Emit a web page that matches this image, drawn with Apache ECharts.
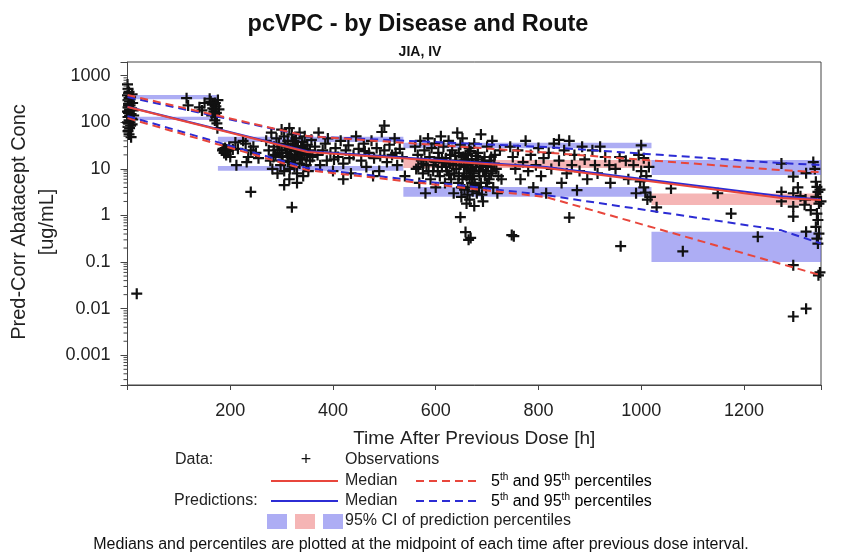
<!DOCTYPE html>
<html><head><meta charset="utf-8">
<script src="https://cdn.jsdelivr.net/npm/echarts@6/dist/echarts.min.js"></script>
<style>html,body{margin:0;padding:0;background:#fff}#c{width:842px;height:553px}</style>
</head><body><div id="c"></div>
<script>
// ---------------- data ----------------
const xTickValues = [200, 400, 600, 800, 1000, 1200];
const yTickLabels = ['0.001', '0.01', '0.1', '1', '10', '100', '1000'];
const yTitleLines = ['Pred-Corr Abatacept Conc', '[ug/mL]'];

const observations = [
  // t ~ 0-20
  [0,650],[1,520],[2,420],[0,380],[3,330],[1,300],[4,280],[2,250],[5,230],[1,210],[6,190],[3,175],[2,160],[7,150],[4,140],[1,130],[8,120],[3,110],[5,100],[2,95],[6,85],[4,75],[1,65],[3,55],[7,48],[9,400],[10,260],[8,200],[11,180],[12,140],[10,115],[9,90],[6,350],[5,310],[0,170],[2,230],[4,190],[0,100],[1,80],[3,450],
  [18,0.021],
  // t ~ 100-180
  [115,330],[118,230],[140,210],[145,180],[150,260],[160,320],[162,280],[165,240],[166,200],[168,170],[170,150],[172,130],[170,110],[174,95],[175,75],[168,250],[172,220],[176,300],[164,140],[178,190],[171,260],[169,190],[173,160],
  // t ~ 180-260
  [185,25],[188,22],[190,28],[192,20],[195,24],[198,30],[200,18],[210,37],[212,12],[215,27],[225,40],[230,35],[232,14],[235,18],[240,25],[245,30],[250,22],[240,3.2],[255,17],[205,26],[186,27],[189,23],[193,26],
  // t ~ 270-360
  [270,40],[275,25],[278,15],[280,60],[282,10],[285,30],[288,20],[290,45],[292,8],[295,35],[298,12],[300,70],[300,25],[302,18],[305,50],[305,9],[308,30],[310,22],[312,40],[312,14],[315,6],[318,28],[320,55],[320,17],[322,35],[325,11],[325,24],[328,45],[330,19],[330,8],[332,30],[335,60],[335,13],[338,22],[340,38],[340,16],[342,7],[345,27],[345,50],[348,12],[350,20],[350,33],[352,9],[355,25],[355,15],[358,42],[360,18],[320,1.5],[330,5],[315,75],[305,4.5],[296,22],[318,20],[326,16],[338,28],[344,20],[310,26],[334,24],
  [284,18],[292,26],[300,15],[306,33],[314,19],[322,13],[328,27],[336,17],[342,31],[348,22],[316,10],[324,40],
  // t ~ 360-540
  [365,30],[370,20],[372,60],[375,12],[380,25],[385,35],[388,15],[390,45],[395,22],[400,9],[405,28],[410,18],[415,40],[420,13],[425,25],[430,32],[435,8],[440,20],[445,50],[450,27],[455,15],[460,35],[465,11],[470,22],[475,40],[480,17],[485,28],[490,9],[495,62],[500,25],[500,85],[505,14],[510,33],[515,20],[520,45],[525,12],[530,27],[535,18],[540,7],[478,7],[420,6],[402,16],[432,17],[462,24],[492,19],[522,22],
  // t ~ 560-730
  [560,30],[562,10],[565,20],[568,5],[570,40],[572,15],[575,8],[578,25],[580,3],[582,12],[585,45],[588,18],[590,6],[592,28],[595,9],[598,35],[600,14],[600,4],
  [605,22],[608,7],[610,50],[612,11],[615,30],[618,5],[620,17],[622,9],[625,40],[628,13],[630,6],[632,25],[635,3],[638,19],[640,10],[642,60],[645,7],[648,33],[650,14],[650,2.5],
  [652,45],[655,8],[658,20],[660,12],[662,4],[665,28],[668,9],[670,16],[672,6],[675,35],[678,11],[680,3],[682,22],[685,7],[688,55],[690,13],[692,2],[695,18],[698,9],[700,30],[700,5],
  [705,15],[708,8],[710,40],[712,4],[715,20],[718,10],[720,3],[725,25],[728,6],[675,1.6],[660,1.8],[690,2.8],
  [640,15],[645,22],[655,11],[662,16],[668,24],[672,13],[678,19],[684,9],[694,14],[702,11],[628,20],[634,12],[616,14],[606,17],[660,7],[670,5],
  [636,8],[644,5],[652,6],[656,15],[664,10],[666,6.5],[674,8],[676,4.5],[680,14],[686,11],[688,5],[696,7],[698,4],[704,6],[710,9],[714,13],[722,7],[626,7.5],[620,11],[612,16],[604,9],[596,12],[586,9],[576,13],[566,11],[646,12],[654,18],[662,21],[670,10],[682,16],[692,9.5],[700,12],[708,18],[650,4],[662,2.8],[672,3.3],[684,4],[666,2.2],[656,3.6],
  [658,0.44],[668,0.33],[648,0.92],[664,0.3],
  // t ~ 740-900
  [745,30],[750,18],[755,10],[760,25],[765,6],[770,14],[775,40],[780,9],[785,20],[790,4],[795,12],[800,28],[805,7],[810,17],[815,3],[820,22],[825,10],[830,35],[840,15],[845,5],[850,25],[855,8],[860,40],[865,12],[870,20],[875,3.5],[880,9],[885,30],[890,16],[895,6],[860,0.9],[752,0.36],[748,0.38],[840,42],
  // t ~ 900-1020
  [905,25],[910,12],[915,8],[920,30],[930,18],[940,5],[950,10],[960,0.22],[970,15],[975,6],[985,12],[990,3],[995,20],[1000,9],[1005,4],[1010,7],[1015,11],[1018,2.5],[1005,17],[1000,32],[938,12],[958,18],[998,5.4],[1008,3.1],[1012,2.2],[1030,1.5],
  // t ~ 1020-1280
  [1058,3.8],[1081,0.17],[1149,3.0],[1175,1.1],[1227,0.35],[1273,13],[1273,3.2],[1273,2.0],
  // t ~ 1280-1350
  [1296,6.8],[1321,8.1],[1296,3.0],[1296,1.55],[1296,0.95],[1318,1.7],[1321,0.45],[1296,0.086],[1296,0.0068],[1321,0.01],[1340,5.3],[1342,4.1],[1344,3.2],[1340,2.5],[1346,1.8],[1342,1.1],[1344,0.8],[1340,0.57],[1346,0.41],[1342,0.32],[1344,0.25],[1345,0.052],[1348,0.06],[1338,10],[1335,14],[1320,2.2],[1310,2.6],[1330,1.3],[1305,4.0],[1350,2.0],[1348,3.6]
];

const obsMedian  = [[0,213],[350,23],[815,10.4],[1273,2.36],[1350,2.14]];
const obsP95     = [[0,385],[350,50.6],[815,22.4],[1273,9.4],[1350,8.5]];
const obsP5      = [[0,123],[350,9.4],[815,2.48],[1350,0.052]];
const predMedian = [[0,215],[350,24],[815,11],[1273,2.58],[1350,2.2]];
const predP95    = [[0,350],[350,50],[815,29.4],[1273,13.3],[1350,12.1]];
const predP5     = [[0,136],[350,10.4],[815,2.73],[1273,0.48],[1350,0.25]];

const binStart = [0, 176, 537, 1020];
const binEnd   = [176, 537, 1020, 1350];
const ciP95    = [[311,385],[38,49],[27.6,36.4],[7.4,15.5]];
const ciMedian = [null, null, [10.4,15.5], [1.67,2.98]];
const ciP5     = [[112,132],[9.1,11.5],[2.54,4.1],[0.101,0.445]];

// ---------------- styles ----------------
const RED = '#e8463c', BLUE = '#2c2cd4';
const BLUE_BOX = 'rgba(105,105,235,0.55)', PINK_BOX = 'rgba(236,120,120,0.55)';
const FONT = '"Liberation Sans", Arial, Helvetica, sans-serif';
const TXT = '#222';
const PLUS = 'path://M4,0H6V4H10V6H6V10H4V6H0V4H4Z';

const boxes = [];
for (let i = 0; i < binStart.length; i++) {
  if (ciP95[i]) boxes.push([binStart[i], binEnd[i], ciP95[i][0], ciP95[i][1], 0]);
  if (ciMedian[i]) boxes.push([binStart[i], binEnd[i], ciMedian[i][0], ciMedian[i][1], 1]);
  if (ciP5[i]) boxes.push([binStart[i], binEnd[i], ciP5[i][0], ciP5[i][1], 0]);
}
// minor tick positions on the log axis (axis decoration)
const minorTicks = [];
for (let e = -4; e <= 3; e++) for (let m = 2; m <= 9; m++) {
  const v = m * Math.pow(10, e);
  if (v > 0.00023 && v < 1970) minorTicks.push([0, v]);
}

const chart = echarts.init(document.getElementById('c'), null, {renderer: 'canvas'});

function lineSeries(name, data, color, dashed, z) {
  return {
    name, type: 'line', data, showSymbol: false, symbol: 'none', z,
    lineStyle: {color, width: 2, type: dashed ? [8, 5] : 'solid'},
    silent: true, animation: false
  };
}

const supRich = {
  n: {fontSize: 16, fontFamily: FONT, color: TXT, lineHeight: 18, verticalAlign: 'bottom'},
  s: {fontSize: 10, fontFamily: FONT, color: TXT, lineHeight: 18, verticalAlign: 'top'}
};

const option = {
  animation: false,
  backgroundColor: '#fff',
  grid: {left: 127.5, right: 21, top: 62, bottom: 168, show: true, borderColor: '#444', borderWidth: 1,
    containLabel: false, outerBoundsMode: 'none'},
  xAxis: {
    type: 'value', min: 0, max: 1350, interval: 200,
    axisLine: {show: true, lineStyle: {color: '#444'}},
    axisTick: {show: true, length: 5, lineStyle: {color: '#444'}},
    splitLine: {show: false},
    axisLabel: {
      margin: 17, fontSize: 18, fontFamily: FONT, color: TXT,
      formatter: v => (xTickValues.indexOf(v) >= 0 ? String(v) : '')
    },
    name: 'Time After Previous Dose [h]', nameLocation: 'middle', nameGap: 44,
    nameTextStyle: {fontSize: 19, fontFamily: FONT, color: TXT}
  },
  yAxis: {
    type: 'log', logBase: 10, min: 0.00023, max: 1970,
    axisLine: {show: true, lineStyle: {color: '#444'}},
    axisTick: {show: true, length: 7, lineStyle: {color: '#444'}},
    splitLine: {show: false},
    axisLabel: {
      margin: 17, fontSize: 18, fontFamily: FONT, color: TXT,
      formatter: v => {
        const l = Math.log10(v);
        if (Math.abs(l - Math.round(l)) > 1e-6) return '';
        const s = String(+(Math.pow(10, Math.round(l))).toPrecision(6));
        return yTickLabels.indexOf(s) >= 0 ? s : '';
      }
    }
  },
  series: [
    {
      type: 'custom', name: 'ci', data: boxes, z: 1, silent: true, clip: true,
      encode: {x: [0, 1], y: [2, 3]},
      renderItem: (params, api) => {
        const p1 = api.coord([api.value(0), api.value(3)]);
        const p2 = api.coord([api.value(1), api.value(2)]);
        return {type: 'rect', shape: {x: p1[0], y: p1[1], width: p2[0] - p1[0], height: p2[1] - p1[1]},
          style: {fill: api.value(4) === 1 ? PINK_BOX : BLUE_BOX}};
      }
    },
    {
      type: 'scatter', name: 'Observations', data: observations, symbol: PLUS, symbolSize: 11,
      itemStyle: {color: '#111', opacity: 1}, z: 3, silent: true
    },
    lineSeries('predP95', predP95, BLUE, true, 4),
    lineSeries('predP5', predP5, BLUE, true, 4),
    lineSeries('predMedian', predMedian, BLUE, false, 4),
    lineSeries('obsP95', obsP95, RED, true, 5),
    lineSeries('obsP5', obsP5, RED, true, 5),
    lineSeries('obsMedian', obsMedian, RED, false, 5),
    {
      type: 'custom', name: 'minorTicks', data: minorTicks, z: 6, silent: true, clip: false,
      renderItem: (params, api) => {
        const p = api.coord([0, api.value(1)]);
        return {type: 'line', shape: {x1: p[0] - 4, y1: p[1], x2: p[0], y2: p[1]},
          style: {stroke: '#444', lineWidth: 1}};
      }
    }
  ],
  graphic: [
    {type: 'text', x: 418, y: 25, style: {text: 'pcVPC - by Disease and Route', font: 'bold 23.5px ' + FONT, fill: '#111', align: 'center', verticalAlign: 'middle'}},
    {type: 'text', x: 420, y: 52, style: {text: 'JIA, IV', font: 'bold 14px ' + FONT, fill: '#111', align: 'center', verticalAlign: 'middle'}},
    // y axis title (two lines, rotated)
    {type: 'text', x: 19, y: 222, rotation: Math.PI / 2, style: {text: yTitleLines[0], font: '20px ' + FONT, fill: TXT, align: 'center', verticalAlign: 'middle'}},
    {type: 'text', x: 47, y: 222, rotation: Math.PI / 2, style: {text: yTitleLines[1], font: '20px ' + FONT, fill: TXT, align: 'center', verticalAlign: 'middle'}},
    // legend
    {type: 'text', x: 175, y: 460, style: {text: 'Data:', font: '16px ' + FONT, fill: TXT, verticalAlign: 'middle'}},
    {type: 'text', x: 306, y: 460, style: {text: '+', font: '18px ' + FONT, fill: '#111', align: 'center', verticalAlign: 'middle'}},
    {type: 'text', x: 345, y: 460, style: {text: 'Observations', font: '16px ' + FONT, fill: TXT, verticalAlign: 'middle'}},
    {type: 'line', shape: {x1: 271, y1: 481, x2: 338, y2: 481}, style: {stroke: RED, lineWidth: 2}},
    {type: 'text', x: 345, y: 481, style: {text: 'Median', font: '16px ' + FONT, fill: TXT, verticalAlign: 'middle'}},
    {type: 'line', shape: {x1: 416, y1: 481, x2: 478, y2: 481}, style: {stroke: RED, lineWidth: 2, lineDash: [8, 5]}},
    {type: 'text', x: 491, y: 481, style: {text: '{n|5}{s|th}{n| and 95}{s|th}{n| percentiles}', verticalAlign: 'middle', rich: supRich}},
    {type: 'text', x: 174, y: 501, style: {text: 'Predictions:', font: '16px ' + FONT, fill: TXT, verticalAlign: 'middle'}},
    {type: 'line', shape: {x1: 271, y1: 501, x2: 338, y2: 501}, style: {stroke: BLUE, lineWidth: 2}},
    {type: 'text', x: 345, y: 501, style: {text: 'Median', font: '16px ' + FONT, fill: TXT, verticalAlign: 'middle'}},
    {type: 'line', shape: {x1: 416, y1: 501, x2: 478, y2: 501}, style: {stroke: BLUE, lineWidth: 2, lineDash: [8, 5]}},
    {type: 'text', x: 491, y: 501, style: {text: '{n|5}{s|th}{n| and 95}{s|th}{n| percentiles}', verticalAlign: 'middle', rich: supRich}},
    {type: 'rect', shape: {x: 267, y: 514, width: 20, height: 15}, style: {fill: BLUE_BOX}},
    {type: 'rect', shape: {x: 295, y: 514, width: 20, height: 15}, style: {fill: PINK_BOX}},
    {type: 'rect', shape: {x: 323, y: 514, width: 20, height: 15}, style: {fill: BLUE_BOX}},
    {type: 'text', x: 345, y: 521, style: {text: '95% CI of prediction percentiles', font: '16px ' + FONT, fill: TXT, verticalAlign: 'middle'}},
    {type: 'text', x: 421, y: 545, style: {text: 'Medians and percentiles are plotted at the midpoint of each time after previous dose interval.', font: '16px ' + FONT, fill: '#111', align: 'center', verticalAlign: 'middle'}}
  ]
};
chart.setOption(option);
</script>
</body></html>
